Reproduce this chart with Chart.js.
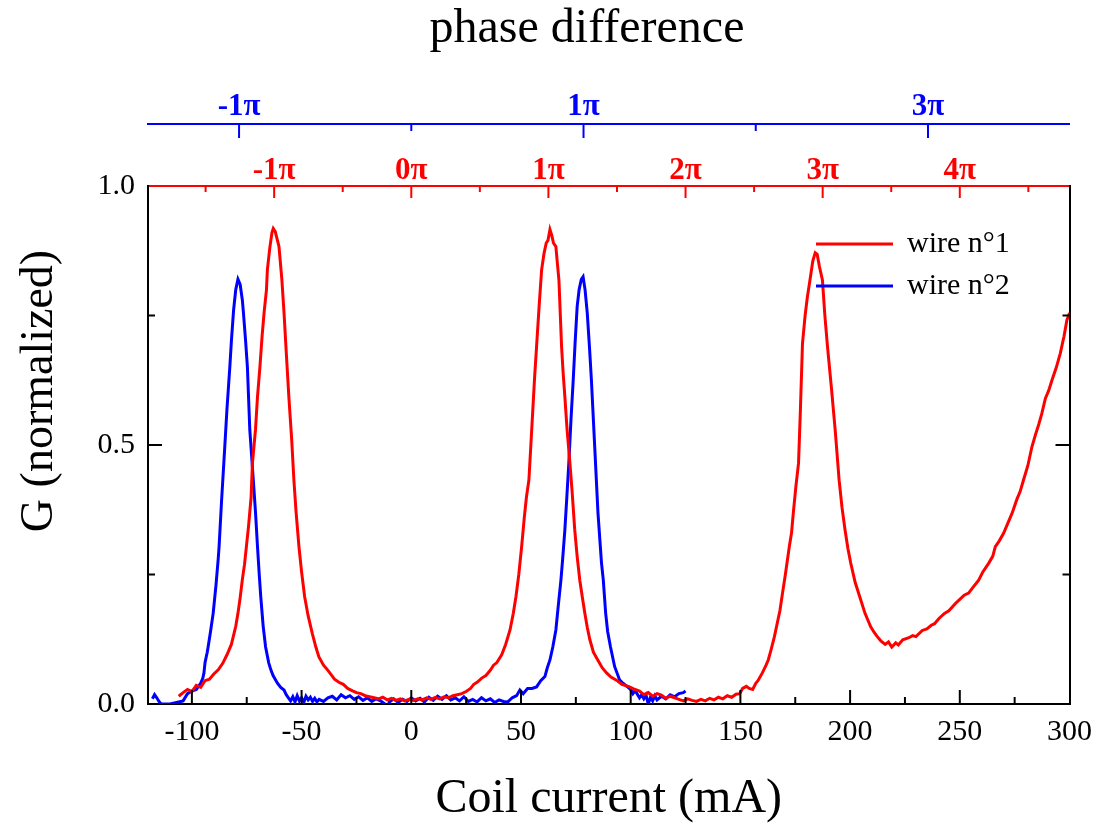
<!DOCTYPE html>
<html>
<head>
<meta charset="utf-8">
<title>G vs coil current</title>
<script src="https://cdn.jsdelivr.net/npm/chart.js@4.4.1/dist/chart.umd.min.js"></script>
<style>
    html, body { margin: 0; padding: 0; background: #fff; }
    canvas { display: block; }
</style>
</head>
<body>
<canvas id="myCanvas" width="1102" height="823"></canvas>
<script>
// wire n°1 (red)
const wire1Current = [
    -106, -104, -102, -100, -98, -96, -94, -92, -90, -88, -86, -84, -82, -80, -79, -78, -77, -76, -75, -74.2,
    -73, -72.4, -71, -70.1, -69, -68, -67.1, -66, -65.6, -64.5, -63.5, -62.9, -62, -61, -60.3, -59, -58, -57, -55.8, -54.5,
    -53.5, -52.5, -51.2, -50, -48.6, -47, -45.1, -43.5, -42.1, -40, -38, -36.8, -35, -33, -31, -29, -27, -25, -23, -21,
    -19, -17, -15, -13, -11, -9, -7, -5, -3, -1, 1, 3, 5, 7, 9, 11, 13, 15, 17, 19,
    21, 23, 25, 27, 28.5, 30, 32.1, 34, 36, 37.5, 39, 41.2, 43, 45, 46.5, 47.7, 49, 50.3, 51.5, 52.5,
    53.6, 54.5, 55.3, 56.2, 57.1, 58.3, 59.4, 60.5, 61.5, 62.3, 63.2, 64, 64.8, 65.9, 66.6, 67.3, 68.5, 69.2, 70, 71,
    72.3, 73.3, 74.5, 75.6, 76.8, 78, 79.1, 80.2, 81.4, 83, 85, 87, 89, 91, 93.5, 96, 99.5, 102, 104, 106,
    108, 110, 112, 114, 116, 118, 120, 122, 124, 126, 128, 130, 132, 134, 136, 138, 140, 142, 144, 146,
    148, 149.7, 151, 152.7, 154, 155.6, 157, 158, 160, 161.7, 162.7, 164, 165.5, 166.5, 168, 169.2, 170.5, 172.3, 173.3, 174.1,
    175.3, 176.5, 177.3, 178.3, 179.5, 180.5, 181.7, 183, 184.1, 185, 186, 187.4, 188.5, 189.7, 191.5, 193.2, 195, 196.3, 197.7, 199,
    200.3, 202.3, 204.4, 206.8, 209.4, 211, 212.4, 214, 216, 217.5, 219, 220.8, 222, 224, 226.8, 228.5, 230, 232.9, 235, 237,
    238.5, 240.5, 243, 245, 248, 250, 252, 254, 256, 258.6, 260.5, 263.2, 265, 266.2, 268, 270, 272, 273.8, 276, 277.5,
    279, 281, 282.9, 284.5, 286, 287.4, 289, 290.5, 292, 294, 295.8, 297.5, 298.8, 300
];
const wire1G = [
    0.015, 0.022, 0.028, 0.024, 0.036, 0.032, 0.045, 0.048, 0.058, 0.066, 0.078, 0.095, 0.115, 0.15, 0.175, 0.205, 0.24, 0.27, 0.31, 0.342,
    0.40, 0.465, 0.53, 0.593, 0.65, 0.71, 0.755, 0.80, 0.838, 0.88, 0.91, 0.918, 0.912, 0.895, 0.883, 0.82, 0.755, 0.68, 0.593, 0.51,
    0.432, 0.37, 0.304, 0.255, 0.207, 0.17, 0.136, 0.11, 0.091, 0.075, 0.065, 0.058, 0.048, 0.042, 0.038, 0.030, 0.026, 0.022, 0.020, 0.016,
    0.014, 0.012, 0.010, 0.013, 0.008, 0.011, 0.007, 0.010, 0.006, 0.009, 0.007, 0.010, 0.008, 0.012, 0.009, 0.013, 0.010, 0.014, 0.012, 0.016,
    0.018, 0.020, 0.024, 0.030, 0.038, 0.042, 0.050, 0.055, 0.065, 0.075, 0.080, 0.095, 0.115, 0.143, 0.175, 0.207, 0.25, 0.304, 0.36, 0.40,
    0.432, 0.50, 0.561, 0.63, 0.69, 0.77, 0.838, 0.87, 0.89, 0.895, 0.916, 0.905, 0.89, 0.883, 0.85, 0.818, 0.69, 0.64, 0.593, 0.53,
    0.465, 0.41, 0.336, 0.285, 0.239, 0.205, 0.175, 0.148, 0.124, 0.10, 0.085, 0.07, 0.06, 0.052, 0.046, 0.038, 0.033, 0.028, 0.025, 0.018,
    0.022, 0.015, 0.020, 0.017, 0.011, 0.015, 0.012, 0.009, 0.006, 0.010, 0.007, 0.005, 0.009, 0.006, 0.011, 0.008, 0.013, 0.010, 0.016, 0.013,
    0.019, 0.020, 0.030, 0.034, 0.030, 0.028, 0.040, 0.045, 0.060, 0.075, 0.085, 0.105, 0.13, 0.15, 0.18, 0.214, 0.25, 0.304, 0.33, 0.368,
    0.42, 0.465, 0.561, 0.696, 0.75, 0.785, 0.818, 0.855, 0.871, 0.868, 0.845, 0.818, 0.75, 0.69, 0.61, 0.529, 0.432, 0.38, 0.336, 0.30,
    0.272, 0.235, 0.207, 0.175, 0.149, 0.138, 0.13, 0.122, 0.115, 0.12, 0.11, 0.118, 0.114, 0.124, 0.128, 0.132, 0.13, 0.142, 0.145, 0.152,
    0.155, 0.165, 0.175, 0.18, 0.194, 0.202, 0.21, 0.214, 0.225, 0.239, 0.255, 0.272, 0.285, 0.304, 0.315, 0.33, 0.35, 0.368, 0.395, 0.41,
    0.432, 0.46, 0.497, 0.52, 0.54, 0.561, 0.59, 0.605, 0.625, 0.65, 0.677, 0.71, 0.741, 0.755
];

// wire n°2 (blue)
const wire2Current = [
    -118, -117, -116, -115, -114, -112, -110, -108, -106, -104, -102, -100, -98, -97, -96, -95, -94.5, -94, -93, -92.6,
    -91.5, -90.3, -89, -88, -87.6, -86.5, -85, -84, -82.7, -82, -81, -80, -79, -78, -77, -76.5, -75.5, -74.7, -73.6, -72,
    -71, -70.1, -69.3, -68.6, -67.5, -66.4, -65, -64, -63, -61, -59.5, -58, -57, -56, -55, -54, -53, -52, -51, -50,
    -49, -48, -47, -46, -45, -44, -43, -42, -40, -38, -36, -34, -32, -30, -28, -26, -24, -22, -20, -18,
    -16, -14, -12, -11, -10, -8, -6, -4, -2, 0, 2, 4, 6, 8, 10, 12, 14, 16, 18, 20,
    22, 24, 26, 28, 30, 32, 34, 36, 38, 40, 42, 44, 46, 48, 49.5, 51, 53, 55, 57.1, 59,
    60.9, 62, 63.2, 64.5, 65.9, 67, 68.2, 69, 70, 70.9, 71.8, 72.8, 73.8, 74.7, 75.6, 76.5, 77.5, 78.3, 79.2, 80.2,
    81.2, 82.1, 83.6, 85.1, 86.7, 87.5, 88.6, 89.5, 90.8, 92.7, 95, 96.5, 98.6, 100, 101, 102, 104, 105, 106, 107,
    108, 109, 110, 111, 112, 114, 116, 118, 120, 122, 124, 125
];
const wire2G = [
    0.010, 0.018, 0.012, 0.005, 0.000, 0.000, 0.000, 0.002, 0.004, 0.006, 0.020, 0.025, 0.028, 0.034, 0.040, 0.050, 0.060, 0.080, 0.100, 0.110,
    0.140, 0.175, 0.230, 0.280, 0.304, 0.390, 0.497, 0.570, 0.651, 0.700, 0.760, 0.800, 0.820, 0.810, 0.780, 0.755, 0.700, 0.651, 0.529, 0.432,
    0.370, 0.304, 0.250, 0.207, 0.150, 0.110, 0.080, 0.066, 0.055, 0.040, 0.032, 0.027, 0.018, 0.012, 0.006, 0.014, 0.004, 0.016, 0.006, 0.012,
    0.003, 0.015, 0.008, 0.013, 0.005, 0.011, 0.004, 0.009, 0.005, 0.012, 0.015, 0.008, 0.018, 0.012, 0.016, 0.009, 0.014, 0.007, 0.012, 0.005,
    0.010, 0.006, 0.000, -0.008, 0.004, 0.010, 0.003, 0.009, 0.005, 0.012, 0.006, 0.011, 0.004, 0.013, 0.007, 0.015, 0.009, 0.016, 0.008, 0.012,
    0.006, 0.014, 0.005, 0.009, 0.004, 0.012, 0.006, 0.010, 0.003, 0.008, 0.005, 0.004, 0.012, 0.016, 0.027, 0.020, 0.030, 0.030, 0.033, 0.045,
    0.053, 0.070, 0.085, 0.110, 0.143, 0.190, 0.239, 0.280, 0.336, 0.400, 0.465, 0.550, 0.625, 0.700, 0.767, 0.800, 0.820, 0.825, 0.800, 0.755,
    0.690, 0.625, 0.497, 0.368, 0.272, 0.240, 0.175, 0.140, 0.110, 0.072, 0.046, 0.040, 0.033, 0.028, 0.020, 0.026, 0.012, 0.018, 0.010, 0.017,
    0.000, 0.013, 0.006, 0.016, 0.008, 0.015, 0.010, 0.018, 0.014, 0.020, 0.022, 0.025
];

const seriesLabels = ["wire n°1", "wire n°2"];
const seriesColors = ["#ff0000", "#0000ff"];

// axes
const xTickValues = [-100, -75, -50, -25, 0, 25, 50, 75, 100, 125, 150, 175, 200, 225, 250, 275, 300];
const yTickValues = [0, 0.25, 0.5, 0.75, 1];
// phase axes: mA per π, labelled multiples and unlabelled half steps
const redPiCurrent = 62.5;
const redPhaseLabels = [-1, 0, 1, 2, 3, 4];
const redPhaseMinor = [-1.5, -0.5, 0.5, 1.5, 2.5, 3.5, 4.5];
const bluePiCurrent = 78.5;
const bluePhaseLabels = [-1, 1, 3];
const bluePhaseMinor = [0, 2];

const serif = "'Liberation Serif', 'Times New Roman', serif";

const toPoints = (xs, ys) => xs.map((x, i) => ({ x: x, y: ys[i] }));

const phaseTicks = (labels, minor, pi) =>
    labels.map(n => ({ value: n * pi, label: n + "π", major: true }))
        .concat(minor.map(n => ({ value: n * pi, label: "", major: false })))
        .sort((a, b) => a.value - b.value);

const tickMarks = {
    id: "tickMarks",
    afterDraw(chart) {
        const ctx = chart.ctx;
        const s = chart.scales;
        const area = chart.chartArea;
        ctx.save();
        ctx.lineWidth = 2;
        const line = (color, x1, y1, x2, y2) => {
            ctx.strokeStyle = color;
            ctx.beginPath();
            ctx.moveTo(x1, y1);
            ctx.lineTo(x2, y2);
            ctx.stroke();
        };
        xTickValues.forEach(v => {
            const px = s.x.getPixelForValue(v);
            if (v <= -120 || v >= 300) return;
            const len = v % 50 === 0 ? 14 : 7;
            line("#000", px, area.bottom, px, area.bottom - len);
        });
        yTickValues.forEach(v => {
            const py = s.y.getPixelForValue(v);
            if (v <= 0 || v >= 1) return;
            const len = (v * 2) % 1 === 0 ? 14 : 7;
            line("#000", area.left, py, area.left + len, py);
            line("#000", area.right, py, area.right - len, py);
        });
        s.red.ticks.forEach(t => {
            const px = s.red.getPixelForValue(t.value);
            line(seriesColors[0], px, s.red.bottom, px, s.red.bottom + (t.major ? 12 : 6));
        });
        s.blue.ticks.forEach(t => {
            const px = s.blue.getPixelForValue(t.value);
            line(seriesColors[1], px, s.blue.bottom, px, s.blue.bottom + (t.major ? 14 : 7));
        });

        // titles
        ctx.fillStyle = "#000";
        ctx.font = "48px " + serif;
        ctx.textAlign = "center";
        ctx.textBaseline = "middle";
        ctx.fillText("phase difference", area.left + 439, 29);

        ctx.save();
        ctx.font = "46px " + serif;
        ctx.translate(40, area.top + 205);
        ctx.rotate(-Math.PI / 2);
        ctx.fillText("G (normalized)", 0, 0);
        ctx.restore();

        // legend inside the plot
        ctx.font = "30px " + serif;
        ctx.textAlign = "left";
        chart.data.datasets.forEach((ds, i) => {
            const ly = area.top + 58 + i * 42;
            ctx.lineWidth = 3;
            line(ds.borderColor, area.left + 668, ly, area.left + 745, ly);
            ctx.fillStyle = "#000";
            ctx.fillText(ds.label, area.left + 759, ly);
        });
        ctx.restore();
    }
};

new Chart(document.getElementById("myCanvas"), {
    type: "line",
    data: {
        datasets: [
            {
                label: seriesLabels[0],
                data: toPoints(wire1Current, wire1G),
                borderColor: seriesColors[0],
                borderWidth: 3,
                pointRadius: 0,
                tension: 0,
                xAxisID: "x",
                yAxisID: "y",
            },
            {
                label: seriesLabels[1],
                data: toPoints(wire2Current, wire2G),
                borderColor: seriesColors[1],
                borderWidth: 3,
                pointRadius: 0,
                tension: 0,
                xAxisID: "x",
                yAxisID: "y",
            },
        ],
    },
    options: {
        responsive: false,
        animation: false,
        devicePixelRatio: 1,
        layout: { padding: 0 },
        plugins: {
            legend: { display: false },
            tooltip: { enabled: false },
        },
        scales: {
            x: {
                type: "linear",
                position: "bottom",
                min: -120,
                max: 300,
                afterBuildTicks: sc => { sc.ticks = xTickValues.map(v => ({ value: v })); },
                afterFit: sc => { sc.height = 119; },
                grid: { display: false, drawTicks: false },
                border: { display: true, color: "#000", width: 2 },
                ticks: {
                    autoSkip: false,
                    maxRotation: 0,
                    padding: 10,
                    color: "#000",
                    font: { family: serif, size: 30, lineHeight: 1.2 },
                    callback: v => (v % 50 === 0 ? String(v) : ""),
                },
                title: {
                    display: true,
                    text: "Coil current (mA)",
                    color: "#000",
                    font: { family: serif, size: 48, lineHeight: 1 },
                    padding: { top: 0, bottom: 0 },
                },
            },
            red: {
                type: "linear",
                position: "top",
                weight: 0,
                min: -120,
                max: 300,
                afterBuildTicks: sc => { sc.ticks = phaseTicks(redPhaseLabels, redPhaseMinor, redPiCurrent); },
                afterFit: sc => { sc.height = 62; },
                grid: { display: false, drawTicks: false },
                border: { display: true, color: seriesColors[0], width: 2 },
                ticks: {
                    autoSkip: false,
                    maxRotation: 0,
                    padding: 0,
                    color: seriesColors[0],
                    font: { family: serif, size: 31, weight: "bold", lineHeight: 1 },
                    callback: (v, i, ticks) => ticks[i].label,
                },
            },
            blue: {
                type: "linear",
                position: "top",
                weight: 1,
                min: -120,
                max: 300,
                afterBuildTicks: sc => { sc.ticks = phaseTicks(bluePhaseLabels, bluePhaseMinor, bluePiCurrent); },
                afterFit: sc => { sc.height = 124; },
                grid: { display: false, drawTicks: false },
                border: { display: true, color: seriesColors[1], width: 2 },
                ticks: {
                    autoSkip: false,
                    maxRotation: 0,
                    padding: 2,
                    color: seriesColors[1],
                    font: { family: serif, size: 31, weight: "bold", lineHeight: 1 },
                    callback: (v, i, ticks) => ticks[i].label,
                },
            },
            y: {
                type: "linear",
                position: "left",
                min: 0,
                max: 1,
                afterBuildTicks: sc => { sc.ticks = yTickValues.map(v => ({ value: v })); },
                afterFit: sc => { sc.width = 148; },
                grid: { display: false, drawTicks: false },
                border: { display: true, color: "#000", width: 2 },
                ticks: {
                    padding: 13,
                    color: "#000",
                    font: { family: serif, size: 30 },
                    callback: v => ((v * 2) % 1 === 0 ? v.toFixed(1) : ""),
                },
            },
            y2: {
                type: "linear",
                position: "right",
                min: 0,
                max: 1,
                afterBuildTicks: sc => { sc.ticks = yTickValues.map(v => ({ value: v })); },
                afterFit: sc => { sc.width = 31; },
                grid: { display: false, drawTicks: false },
                border: { display: true, color: "#000", width: 2 },
                ticks: { display: false },
            },
        },
    },
    plugins: [tickMarks],
});
</script>
</body>
</html>
